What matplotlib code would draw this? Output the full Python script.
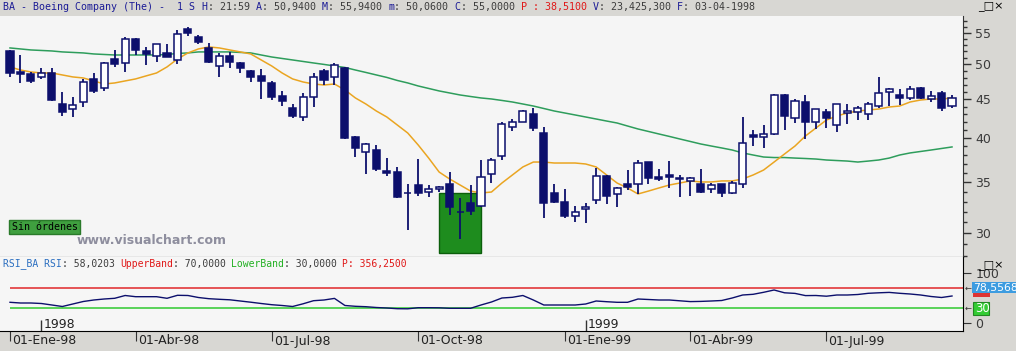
import numpy as np
import matplotlib
matplotlib.use('Agg')
import matplotlib.pyplot as plt
from matplotlib import ticker, transforms, font_manager
from matplotlib.patches import Rectangle

# weekly candles, BA, one per bar index
opens = [52.1, 48.9, 48.6, 48.1, 48.7, 44.4, 43.7, 44.6, 47.9, 46.6,
         50.8, 50.2, 54.0, 52.1, 51.3, 51.8, 50.7, 55.7, 54.3, 52.6,
         49.8, 51.3, 50.2, 49.0, 48.3, 47.3, 45.4, 43.8, 42.6, 45.3,
         49.0, 48.1, 49.5, 40.1, 38.4, 38.6, 36.2, 36.1, 33.9, 34.7,
         34.0, 34.3, 34.8, 32.0, 32.9, 32.6, 35.9, 37.9, 41.4, 42.0,
         43.0, 40.6, 33.9, 33.0, 31.6, 32.3, 33.2, 35.7, 33.8, 34.8,
         34.8, 37.2, 35.6, 35.8, 35.4, 35.1, 34.8, 34.3, 34.8, 33.9,
         34.8, 40.4, 40.1, 40.5, 45.6, 42.5, 44.6, 42.0, 43.3, 41.6,
         43.2, 43.3, 43.0, 44.1, 46.0, 45.6, 45.2, 46.6, 45.0, 45.9,
         44.1]
highs = [52.3, 51.4, 48.9, 49.5, 49.5, 46.0, 45.3, 47.9, 48.7, 50.4,
         52.2, 54.3, 54.1, 52.7, 53.25, 53.2, 55.5, 56.0, 54.7, 53.4,
         51.8, 51.9, 50.3, 49.1, 49.3, 47.6, 46.1, 44.4, 45.9, 48.7,
         49.3, 50.2, 49.6, 40.2, 39.35, 39.2, 37.7, 36.7, 34.8, 37.5,
         34.7, 34.6, 36.1, 33.4, 34.7, 37.4, 37.7, 42.0, 42.4, 43.5,
         43.8, 41.4, 34.8, 34.3, 32.6, 32.9, 36.5, 35.75, 34.5, 36.3,
         37.4, 37.25, 36.4, 37.3, 35.8, 35.5, 36.4, 34.9, 34.85, 35.1,
         42.6, 41.0, 41.6, 45.65, 45.65, 45.0, 45.6, 43.75, 43.7, 44.4,
         44.35, 44.1, 44.6, 48.1, 46.5, 46.4, 46.8, 46.65, 46.1, 46.1,
         45.6]
lows = [48.1, 47.3, 47.3, 47.8, 44.8, 42.8, 42.6, 44.0, 45.9, 46.1,
        49.6, 48.9, 51.4, 49.9, 50.4, 51.1, 50.1, 54.5, 53.2, 50.2,
        48.1, 49.5, 48.7, 47.4, 45.0, 44.9, 44.1, 42.5, 42.1, 44.0,
        47.0, 47.0, 39.9, 37.8, 35.9, 36.2, 35.7, 33.4, 30.3, 33.6,
        33.5, 34.0, 31.7, 29.5, 31.7, 32.5, 34.9, 37.4, 40.9, 41.95,
        40.9, 31.4, 32.9, 31.4, 31.0, 30.9, 32.8, 32.8, 32.5, 34.2,
        33.8, 34.8, 35.1, 34.4, 33.5, 33.6, 33.9, 33.9, 33.5, 33.8,
        34.4, 39.1, 38.8, 40.4, 41.0, 41.9, 39.9, 41.1, 41.2, 40.7,
        41.75, 42.25, 42.25, 43.8, 44.1, 44.2, 44.9, 45.0, 44.6, 43.4,
        43.8]
closes = [48.7, 48.6, 47.6, 48.7, 44.9, 43.3, 44.2, 47.4, 46.1, 50.2,
          50.1, 54.0, 52.2, 51.6, 53.2, 51.1, 54.8, 55.0, 53.5, 50.4,
          51.3, 50.4, 49.5, 48.1, 47.6, 45.3, 44.8, 42.8, 45.3, 48.1,
          47.7, 49.9, 40.0, 38.8, 39.3, 36.4, 36.0, 33.5, 33.9, 33.9,
          34.3, 34.5, 32.5, 32.0, 32.1, 35.6, 37.4, 41.8, 42.0, 43.4,
          41.2, 32.9, 33.0, 31.6, 32.0, 32.5, 35.7, 33.6, 34.4, 34.5,
          37.1, 35.4, 35.3, 35.6, 35.3, 35.4, 34.0, 34.7, 33.9, 34.9,
          39.4, 40.1, 40.5, 45.6, 42.8, 44.8, 42.0, 43.7, 42.5, 44.35,
          43.4, 43.8, 44.35, 45.9, 46.4, 45.2, 46.4, 45.2, 45.4, 43.8,
          45.2]

# moving averages as drawn on the chart
ma_short = [49.62, 49.16, 48.87, 48.72, 48.72, 48.43, 48.14, 47.99, 47.56, 47.12,
            47.27, 47.56, 47.85, 48.29, 48.72, 49.62, 50.83, 51.77, 52.40, 52.72,
            52.56, 52.24, 51.93, 51.61, 50.68, 49.77, 48.72, 47.85, 47.41, 47.12,
            46.98, 47.12, 46.28, 45.17, 44.35, 43.42, 42.64, 41.62, 40.62, 39.17,
            37.65, 36.09, 35.34, 34.70, 34.07, 33.87, 33.97, 34.91, 35.77, 36.65,
            37.20, 37.20, 37.09, 37.09, 37.09, 36.98, 36.65, 35.77, 34.91, 34.39,
            33.77, 34.07, 34.39, 34.70, 34.91, 35.13, 35.02, 35.02, 35.13, 35.13,
            35.34, 35.77, 36.31, 37.20, 38.12, 39.05, 40.26, 41.24, 42.25, 42.77,
            43.16, 43.42, 43.55, 43.68, 43.95, 44.08, 44.62, 44.89, 45.03, 45.03,
            45.17]
ma_long = [52.56, 52.40, 52.24, 52.16, 52.08, 51.93, 51.85, 51.77, 51.61, 51.53,
           51.45, 51.45, 51.45, 51.45, 51.45, 51.53, 51.69, 51.77, 51.93, 51.93,
           51.93, 51.93, 51.85, 51.77, 51.45, 51.14, 50.91, 50.68, 50.45, 50.22,
           50.00, 49.77, 49.54, 49.16, 48.80, 48.43, 48.07, 47.63, 47.27, 46.84,
           46.49, 46.14, 45.86, 45.58, 45.37, 45.17, 45.03, 44.83, 44.62, 44.35,
           44.08, 43.75, 43.42, 43.16, 42.90, 42.64, 42.38, 42.12, 41.87, 41.49,
           41.12, 40.81, 40.50, 40.20, 39.89, 39.59, 39.29, 39.05, 38.82, 38.58,
           38.24, 38.00, 37.77, 37.71, 37.71, 37.65, 37.60, 37.54, 37.43, 37.37,
           37.31, 37.20, 37.31, 37.43, 37.65, 38.00, 38.24, 38.41, 38.58, 38.76,
           38.94]

rsi = [41.4, 40, 40, 39, 36, 33, 38, 43, 46, 48,
       49.4, 55, 52.6, 52.6, 52.6, 49.4, 55.4, 55, 51, 48.6,
       47.4, 46.4, 44, 41.6, 39, 36.6, 35, 33, 38.4, 44.6,
       46, 49.2, 35, 33.4, 32.6, 31, 30, 28.6, 28.4, 30.6,
       30.6, 30.4, 29.4, 29.4, 29.4, 36, 42, 50, 51.4, 55,
       46, 36, 36, 36, 36, 38, 44, 42.6, 41.4, 41.4,
       48, 47, 46, 46, 44.4, 42.8, 43.2, 44, 45, 50,
       56, 57.4, 61.4, 66, 60.4, 59.2, 54.8, 55, 53.6, 56,
       56, 57, 59.4, 60.4, 61.2, 59.4, 58, 56, 53, 51,
       54]
rsi_upper = 70
rsi_lower = 30

# green "signal" zone
sig_start, sig_end = 41, 45
sig_low, sig_high = 28.2, 33.87

price_ticks = [30, 35, 40, 45, 50, 55]
date_ticks = [0, 12, 25, 39, 53, 65, 78]
date_labels = ['01-Ene-98', '01-Abr-98', '01-Jul-98', '01-Oct-98',
               '01-Ene-99', '01-Abr-99', '01-Jul-99']
year_ticks = [3, 55]
year_labels = ['1998', '1999']

W, H = 1016, 351
installed = {f.name for f in font_manager.fontManager.ttflist}
narrow = 'Liberation Sans Narrow' if 'Liberation Sans Narrow' in installed else 'DejaVu Sans'
mono = 'DejaVu Sans Mono'
navy = '#0c0f6c'
dark = '#3a3a3a'

fig = plt.figure(figsize=(W / 100, H / 100), dpi=100, facecolor='#d8d7d3')


def px_axes(x0, y0, x1, y1):
    return fig.add_axes([x0 / W, 1 - y1 / H, (x1 - x0) / W, (y1 - y0) / H])


def px(x, y):
    return x / W, 1 - y / H


def colored_line(x0, y, parts, size):
    cw = 0.602 * size * 100 / 72
    pos = x0
    for s, col in parts:
        fig.text(*px(pos, y), s, color=col, fontsize=size, family=mono,
                 va='center', ha='left')
        pos += len(s) * cw


xlim = (-0.955, 91.05)
x = np.arange(len(closes))
o, h, l, c = (np.array(v) for v in (opens, highs, lows, closes))

# ---- price panel
ax = px_axes(0, 16, 963, 257)
ax.set_facecolor('#f5f5f5')
ax.add_patch(Rectangle((sig_start, sig_low), sig_end - sig_start, sig_high - sig_low,
                       facecolor='#1e8c1e', edgecolor='#0b5e0b', lw=1, zorder=1))
ax.plot(x, ma_long, color='#2e9d5c', lw=1.1, zorder=2)
ax.plot(x, ma_short, color='#eaa521', lw=1.1, zorder=2)
ax.vlines(x, l, h, color=navy, lw=1.3, zorder=3)
ax.bar(x, np.abs(c - o), bottom=np.minimum(o, c), width=0.68,
       color=np.where(c >= o, 'white', navy), edgecolor=navy, lw=1.1, zorder=4)

ax.set_yscale('log')
ax.set_ylim(27.9, 57.9)
ax.set_xlim(*xlim)
ax.yaxis.tick_right()
ax.yaxis.set_major_locator(ticker.FixedLocator(price_ticks))
ax.yaxis.set_major_formatter(ticker.FixedFormatter([str(v) for v in price_ticks]))
ax.yaxis.set_minor_locator(ticker.FixedLocator([v for v in range(28, 58) if v % 5]))
ax.yaxis.set_minor_formatter(ticker.NullFormatter())
ax.tick_params(axis='y', which='major', length=6, width=1, color='#333333',
               labelsize=9, labelcolor=dark, pad=3)
ax.tick_params(axis='y', which='minor', length=3, width=1, color='#333333')
for lab in ax.get_yticklabels():
    lab.set_family(narrow)
ax.set_xticks([])
for s in ['top', 'left']:
    ax.spines[s].set_visible(False)
ax.spines['bottom'].set_color('black')
ax.spines['right'].set_color('#333333')

# ---- RSI panel
ax2 = px_axes(0, 257, 963, 331)
ax2.set_facecolor('#f6f6f6')
ax2.hlines(rsi_upper, 0, xlim[1], color='#e2383a', lw=1.2)
ax2.hlines(rsi_lower, 0, xlim[1], color='#3fcc3f', lw=1.2)
ax2.plot(x, rsi, color=navy, lw=1)
ax2.set_xlim(*xlim)
ax2.set_ylim(-16, 132)
ax2.yaxis.tick_right()
ax2.set_yticks([0, 100])
ax2.set_yticklabels(['0', '100'])
ax2.tick_params(axis='y', length=6, color='#333333', labelsize=9, labelcolor=dark, pad=3)
for lab in ax2.get_yticklabels():
    lab.set_family(narrow)
ax2.set_xticks(date_ticks)
ax2.set_xticklabels([])
ax2.tick_params(axis='x', length=7, direction='out', color='#333333')
for s in ['top', 'left']:
    ax2.spines[s].set_visible(False)

tr = transforms.blended_transform_factory(ax2.transData, fig.transFigure)
for pos, lab in zip(date_ticks, date_labels):
    ax2.text(pos + 0.2, 1 - 341 / H, lab, transform=tr, ha='left', va='center',
             fontsize=9, family=narrow, color='#222222')
ax2.vlines(year_ticks, -16, 6, color='#333333', lw=1)
for pos, lab in zip(year_ticks, year_labels):
    ax2.text(pos + 0.2, -3, lab, ha='left', va='center', fontsize=9,
             family=narrow, color='#222222')

# ---- headers
navy_t = '#1c1c96'
grey_t = '#3c3c3c'
red_t = '#e01818'
colored_line(3, 7, [("BA - Boeing Company (The) -  1 S ", navy_t), ("H", navy_t),
                    (": 21:59 ", grey_t), ("A", navy_t), (": 50,9400 ", grey_t),
                    ("M", navy_t), (": 55,9400 ", grey_t), ("m", navy_t),
                    (": 50,0600 ", grey_t), ("C", navy_t), (": 55,0000 ", grey_t),
                    ("P : 38,5100 ", red_t), ("V", navy_t), (": 23,425,300 ", grey_t),
                    ("F", navy_t), (": 03-04-1998", grey_t)], 7.2)
colored_line(3, 264, [("RSI_BA RSI", '#2a6ec0'), (": 58,0203 ", grey_t),
                      ("UpperBand", red_t), (": 70,0000 ", grey_t),
                      ("LowerBand", '#22b022'), (": 30,0000 ", grey_t),
                      ("P: 356,2500", red_t)], 7.0)
for yb in (6, 265):
    fig.text(*px(978, yb), '_\u25a1\u00d7', fontsize=8, color='black', va='center',
             family='DejaVu Sans')

# "Sin órdenes" box and watermark
fig.patches.append(Rectangle(px(9, 234), 71 / W, 14 / H, transform=fig.transFigure,
                             facecolor='#3f9f3f', edgecolor='#2a7a2a', lw=1))
fig.text(*px(12, 227), 'Sin órdenes', fontsize=7.2, family=mono, color='black',
         va='center', ha='left')
fig.text(*px(77, 240), 'www.visualchart.com', fontsize=9, weight='bold',
         color='#8e8e9e', va='center', ha='left', family='DejaVu Sans')

# RSI value markers on the right
fig.patches.append(Rectangle(px(972, 293), 44 / W, 11 / H, transform=fig.transFigure,
                             facecolor='#3d9ce0', edgecolor='none'))
fig.text(*px(973, 287.5), '78,5568', fontsize=7.8, family=narrow, color='white',
         va='center', ha='left')
fig.patches.append(Rectangle(px(973, 297), 17 / W, 4 / H, transform=fig.transFigure,
                             facecolor='#dd3333', edgecolor='none'))
fig.patches.append(Rectangle(px(973, 315), 16 / W, 13 / H, transform=fig.transFigure,
                             facecolor='#33cc33', edgecolor='#228822', lw=0.8))
fig.text(*px(975, 308.5), '30', fontsize=8.5, family=narrow, color='white',
         va='center', ha='left')
for yb in (288, 308):
    fig.text(*px(965, yb), '\u2190', fontsize=6, color='#333333', va='center')

fig.savefig('out.png', dpi=100, facecolor=fig.get_facecolor())
